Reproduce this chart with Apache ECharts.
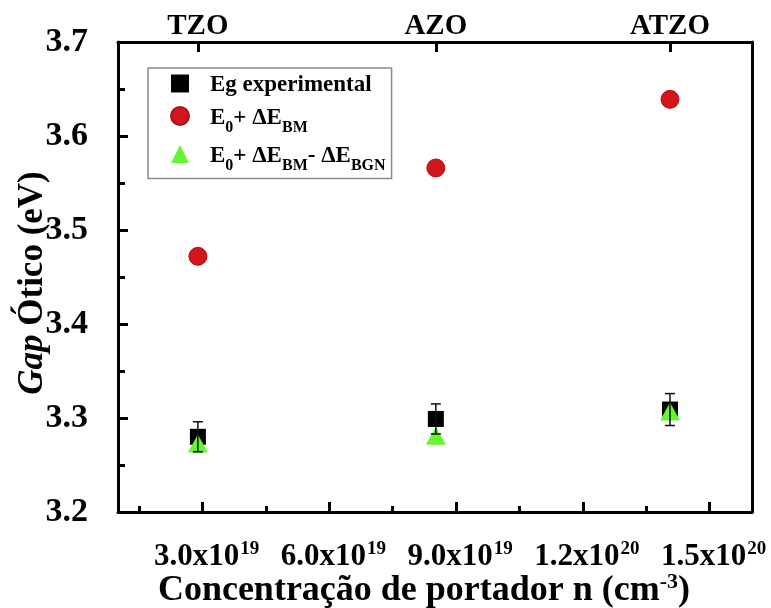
<!DOCTYPE html>
<html>
<head>
<meta charset="utf-8">
<style>
  html, body { margin: 0; padding: 0; background: #fff; }
  #chart { width: 771px; height: 608px; }
</style>
<script src="https://cdn.jsdelivr.net/npm/echarts@6/dist/echarts.min.js"></script>
</head>
<body>
<div id="chart"></div>
<script>
// Sample films and their carrier concentration (cm^-3)
const samples = ['TZO', 'AZO', 'ATZO'];
const carrierConc = [2.89e19, 8.52e19, 1.406e20];

// Optical gap values (eV)
const egExperimental = [3.280, 3.299, 3.309];
const egExperimentalErr = [0.016, 0.016, 0.017];
const egBM = [3.472, 3.566, 3.639];
const egBMBGN = [3.273, 3.281, 3.307];

// Bottom axis ticks: mantissa x 10^exponent
const xMajorTicks = [3e19, 6e19, 9e19, 1.2e20, 1.5e20];
const xTickMantissa = ['3.0', '6.0', '9.0', '1.2', '1.5'];
const xTickExponent = ['19', '19', '19', '20', '20'];
const xMinorTicks = [1.5e19, 4.5e19, 7.5e19, 1.05e20, 1.35e20];

const seriesNames = ['Eg experimental', 'E0+ \u0394EBM', 'E0+ \u0394EBM- \u0394EBGN'];
const legendLabels = {
  'Eg experimental': '{t|Eg experimental}',
  'E0+ \u0394EBM': '{t|E}{sub|0}{t|+ \u0394E}{sub|BM}',
  'E0+ \u0394EBM- \u0394EBGN': '{t|E}{sub|0}{t|+ \u0394E}{sub|BM}{t|- \u0394E}{sub|BGN}'
};

const FONT = 'Liberation Serif';
const X_MIN = 1e19, X_MAX = 1.6e20;

const chart = echarts.init(document.getElementById('chart'), null, { renderer: 'canvas' });

const frameLine = { show: true, onZero: false, lineStyle: { color: '#000', width: 3 } };

chart.setOption({
  animation: false,
  backgroundColor: '#fff',
  grid: { left: 118, right: 19, top: 42, bottom: 96, containLabel: false, outerBoundsMode: 'none' },
  legend: {
    orient: 'vertical',
    left: 148,
    top: 68,
    padding: [6, 6, 5, 22],
    itemGap: 9,
    itemWidth: 18,
    itemHeight: 18,
    borderColor: '#8a8a8a',
    borderWidth: 1.5,
    data: seriesNames,
    formatter: name => legendLabels[name],
    textStyle: {
      padding: [0, 0, 0, 16],
      rich: {
        t: { fontFamily: FONT, fontWeight: 'bold', fontSize: 23, color: '#000', lineHeight: 27, verticalAlign: 'bottom' },
        sub: { fontFamily: FONT, fontWeight: 'bold', fontSize: 16, color: '#000', lineHeight: 16, verticalAlign: 'bottom', padding: [0, 0, -6, 0] }
      }
    }
  },
  xAxis: [
    {
      type: 'value',
      position: 'bottom',
      min: X_MIN,
      max: X_MAX,
      axisLine: frameLine,
      splitLine: { show: false },
      axisTick: { show: true, inside: true, length: 10, customValues: xMajorTicks, lineStyle: { color: '#000', width: 3 } },
      axisLabel: {
        customValues: xMajorTicks,
        margin: 28,
        formatter: v => {
          const i = xMajorTicks.findIndex(t => Math.abs(t - v) < 1e15);
          return '{m|' + xTickMantissa[i] + 'x10}{e|' + xTickExponent[i] + '}';
        },
        rich: {
          m: { fontFamily: FONT, fontWeight: 'bold', fontSize: 31, color: '#000', lineHeight: 32, verticalAlign: 'bottom', padding: [0, 0, 0, 8] },
          e: { fontFamily: FONT, fontWeight: 'bold', fontSize: 19, color: '#000', lineHeight: 19, verticalAlign: 'top', padding: [0, 0, 0, 1] }
        }
      },
      name: '{b|Concentra\u00e7\u00e3o de portador n (cm}{s|-3}{b|)}',
      nameLocation: 'middle',
      nameMoveOverlap: false,
      nameGap: 59,
      nameTextStyle: {
        padding: [0, 22, 0, 0],
        rich: {
          b: { fontFamily: FONT, fontWeight: 'bold', fontSize: 36, color: '#000', lineHeight: 38, verticalAlign: 'bottom' },
          s: { fontFamily: FONT, fontWeight: 'bold', fontSize: 22, color: '#000', lineHeight: 22, verticalAlign: 'top' }
        }
      }
    },
    {
      // shorter minor ticks along the bottom
      type: 'value',
      position: 'bottom',
      min: X_MIN,
      max: X_MAX,
      axisLine: { show: false, onZero: false },
      splitLine: { show: false },
      axisTick: { show: true, inside: true, length: 6, customValues: xMinorTicks, lineStyle: { color: '#000', width: 3 } },
      axisLabel: { show: false }
    },
    {
      // sample names along the top
      type: 'value',
      position: 'top',
      min: X_MIN,
      max: X_MAX,
      axisLine: frameLine,
      splitLine: { show: false },
      axisTick: { show: true, inside: true, length: 10, customValues: carrierConc, lineStyle: { color: '#000', width: 3 } },
      axisLabel: {
        customValues: carrierConc,
        margin: 1,
        formatter: v => {
          const i = carrierConc.findIndex(c => Math.abs(c - v) < 1e15);
          return samples[i];
        },
        fontFamily: FONT, fontWeight: 'bold', fontSize: 29, color: '#000'
      }
    }
  ],
  yAxis: [
    {
      type: 'value',
      position: 'left',
      min: 3.2,
      max: 3.7,
      interval: 0.1,
      axisLine: frameLine,
      splitLine: { show: false },
      axisTick: { show: true, inside: true, length: 10, lineStyle: { color: '#000', width: 3 } },
      minorTick: { show: true, splitNumber: 2, length: 7, lineStyle: { color: '#000', width: 3 } },
      axisLabel: {
        margin: 30,
        formatter: v => v.toFixed(1),
        fontFamily: FONT, fontWeight: 'bold', fontSize: 34, color: '#000'
      },
      name: '{i|Gap}{b| \u00d3tico (eV)}',
      nameLocation: 'middle',
      nameMoveOverlap: false,
      nameRotate: 90,
      nameGap: 68,
      nameTextStyle: {
        padding: [0, 12, 0, 0],
        rich: {
          i: { fontFamily: FONT, fontWeight: 'bold', fontStyle: 'italic', fontSize: 35, color: '#000' },
          b: { fontFamily: FONT, fontWeight: 'bold', fontSize: 35, color: '#000' }
        }
      }
    },
    {
      type: 'value',
      position: 'right',
      min: 3.2,
      max: 3.7,
      axisLine: frameLine,
      splitLine: { show: false },
      axisTick: { show: false },
      axisLabel: { show: false }
    }
  ],
  series: [
    {
      name: seriesNames[0],
      type: 'scatter',
      symbol: 'rect',
      symbolSize: 16,
      itemStyle: { color: '#000', opacity: 1 },
      z: 2,
      data: carrierConc.map((x, i) => [x, egExperimental[i]])
    },
    {
      name: seriesNames[1],
      type: 'scatter',
      symbol: 'circle',
      symbolSize: 18,
      itemStyle: { color: '#d3151c', borderColor: '#b00f15', borderWidth: 1, opacity: 1 },
      z: 2,
      data: carrierConc.map((x, i) => [x, egBM[i]])
    },
    {
      name: seriesNames[2],
      type: 'scatter',
      symbol: 'triangle',
      symbolSize: [20, 18],
      itemStyle: { color: '#66f530', opacity: 1 },
      z: 3,
      data: carrierConc.map((x, i) => [x, egBMBGN[i]])
    },
    {
      // error bars of the experimental gap
      type: 'custom',
      z: 4,
      silent: true,
      data: carrierConc.map((x, i) => [x, egExperimental[i] - egExperimentalErr[i], egExperimental[i] + egExperimentalErr[i]]),
      renderItem: (params, api) => {
        const lo = api.coord([api.value(0), api.value(1)]);
        const hi = api.coord([api.value(0), api.value(2)]);
        const cap = 5;
        const style = { stroke: '#111', lineWidth: 1.5 };
        return {
          type: 'group',
          children: [
            { type: 'line', shape: { x1: lo[0], y1: lo[1], x2: hi[0], y2: hi[1] }, style },
            { type: 'line', shape: { x1: lo[0] - cap, y1: lo[1], x2: lo[0] + cap, y2: lo[1] }, style },
            { type: 'line', shape: { x1: hi[0] - cap, y1: hi[1], x2: hi[0] + cap, y2: hi[1] }, style }
          ]
        };
      }
    }
  ]
});
</script>
</body>
</html>
